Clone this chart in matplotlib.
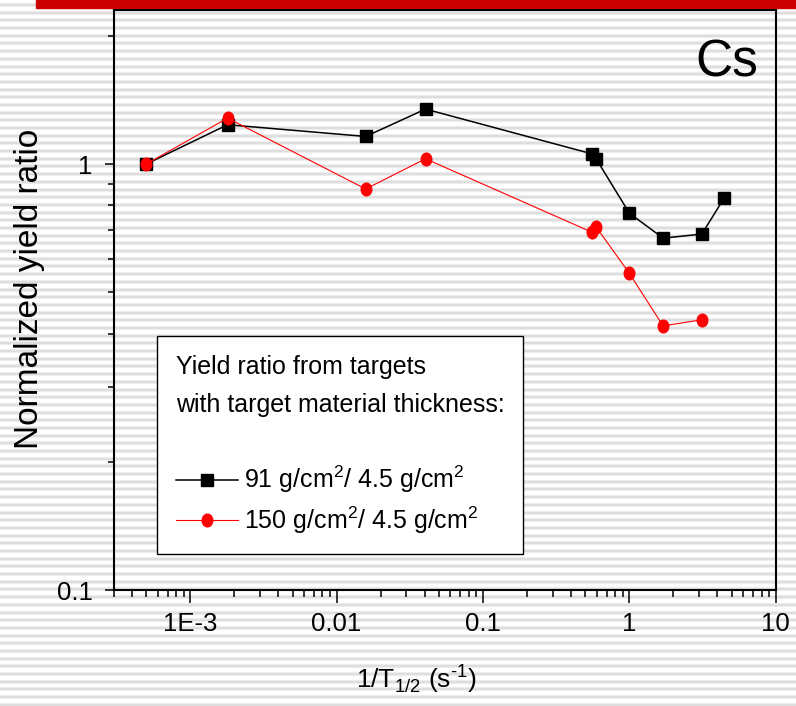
import numpy as np
import matplotlib
matplotlib.use('Agg')
import matplotlib.pyplot as plt
from matplotlib.markers import MarkerStyle
from matplotlib.transforms import Affine2D
from matplotlib.patches import Rectangle
from matplotlib.ticker import LogLocator, NullFormatter

# Inverse half-life (1/s) of the measured isotopes
inv_halflife = [5e-4, 1.8e-3, 0.0158, 0.0405, 0.56, 0.595, 1.0, 1.7, 3.13, 4.45]

# Yield ratios, thick target over the 4.5 g/cm2 reference target
ratio_91 = [1.0, 1.237, 1.161, 1.346, 1.056, 1.027, 0.767, 0.670, 0.685, 0.833]
ratio_150 = [1.0, 1.282, 0.874, 1.029, 0.691, 0.711, 0.554, 0.417, 0.431]

label_91 = r'91 g/cm$^{\mathregular{2}}$/ 4.5 g/cm$^{\mathregular{2}}$'
label_150 = r'150 g/cm$^{\mathregular{2}}$/ 4.5 g/cm$^{\mathregular{2}}$'
legend_title = 'Yield ratio from targets\nwith target material thickness:\n'

xtick_vals = [1e-3, 0.01, 0.1, 1, 10]
xtick_labels = ['1E-3', '0.01', '0.1', '1', '10']
ytick_vals = [0.1, 1]
ytick_labels = ['0.1', '1']
yminor_vals = [0.2, 0.3, 0.4, 0.5, 0.6, 0.7, 0.8, 0.9, 2]

plt.rcParams['font.family'] = ['Liberation Sans', 'DejaVu Sans']

W, H = 796, 706
fig = plt.figure(figsize=(W / 100, H / 100), dpi=100)
fig.patch.set_facecolor('white')

# slide background: thin grey stripes and the red bar on top
bg = fig.add_axes([0, 0, 1, 1], zorder=-1)
bg.set_xlim(0, W)
bg.set_ylim(H, 0)
bg.axis('off')
stripe_y = np.arange(5, H + 1, 7.69)
bg.hlines(stripe_y, 0, W, colors='#ededed', linewidth=3.0)
bg.hlines(stripe_y, 0, W, colors='#dcdcdc', linewidth=1.2)
bg.add_patch(Rectangle((36, 0), W - 36, 7.7, color='#cc0000', zorder=3))

ax = fig.add_axes([113.7 / W, 1 - 590 / H, 662 / W, 580 / H])
ax.set_facecolor('none')

sq = MarkerStyle('s', transform=Affine2D().scale(1, 1.1))
dot = MarkerStyle('o', transform=Affine2D().scale(1, 1.2))

ax.plot(inv_halflife, ratio_91, color='black', lw=1.1, marker=sq, ms=8,
        mfc='black', mec='black', label=label_91)
ax.plot(inv_halflife[:len(ratio_150)], ratio_150, color='red', lw=0.8,
        marker=dot, ms=7.6, mfc='red', mec='red', label=label_150)

ax.set_xscale('log')
ax.set_yscale('log')
ax.set_xlim(3e-4, 10)
ax.set_ylim(0.1, 2.3)

ax.set_xticks(xtick_vals, labels=xtick_labels)
ax.xaxis.set_minor_locator(LogLocator(base=10, subs=np.arange(2, 10), numticks=20))
ax.xaxis.set_minor_formatter(NullFormatter())
ax.set_yticks(ytick_vals, labels=ytick_labels)
ax.set_yticks(yminor_vals, minor=True)
ax.yaxis.set_minor_formatter(NullFormatter())

ax.tick_params(axis='both', which='both', direction='out', width=1.1,
               top=False, right=False, labelsize=18.5, color='black')
ax.tick_params(axis='x', which='major', length=9.1, pad=7)
ax.tick_params(axis='x', which='minor', length=5)
ax.tick_params(axis='y', which='major', length=6.7, pad=8.5)
ax.tick_params(axis='y', which='minor', length=4)
for s in ax.spines.values():
    s.set_linewidth(1.5)

ax.set_xlabel('1/T$_{\\mathregular{1/2}}$ (s$^{\\mathregular{\u20101}}$)',
              fontsize=19)
ax.xaxis.set_label_coords(0.457, -0.124)
ax.set_ylabel('Normalized yield ratio', fontsize=24)
ax.yaxis.set_label_coords(-0.104, 0.52)

ax.text(0.973, 0.886, 'Cs', transform=ax.transAxes, ha='right', va='baseline',
        fontsize=37)

leg = ax.legend(loc='upper left', bbox_to_anchor=(0.0654, 0.438),
                borderaxespad=0, title=legend_title, title_fontsize=18,
                fontsize=18, alignment='left', numpoints=1, handlelength=2.5,
                handletextpad=0.25, labelspacing=0.35, borderpad=0.75,
                fancybox=False, framealpha=1, edgecolor='black')
leg.get_title().set_linespacing(1.75)
leg.get_frame().set_linewidth(1.0)

fig.savefig('out.png', dpi=100)
